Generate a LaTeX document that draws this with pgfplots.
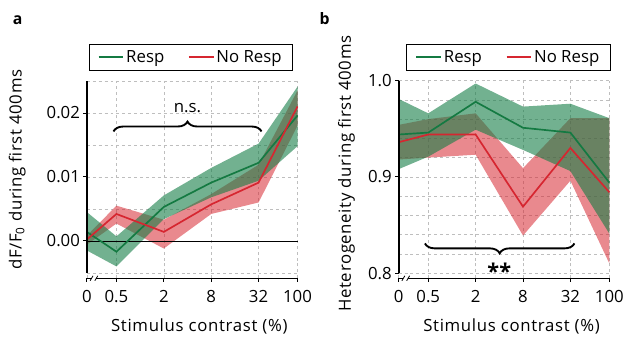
\documentclass[border=0pt]{standalone}
\usepackage{fontspec}
\setmainfont{Open Sans}
\newfontfamily\labfont{Open Sans}[LetterSpace=4]
\usepackage{pgfplots}
\usepackage{pgfplotstable}
\pgfplotsset{compat=1.18}
\usepgfplotslibrary{fillbetween}
\usetikzlibrary{decorations.pathreplacing}

\definecolor{gline}{RGB}{20,122,66}
\definecolor{rline}{RGB}{214,38,48}
\definecolor{gfill}{RGB}{20,125,70}
\definecolor{rfill}{RGB}{215,40,50}
\definecolor{gridc}{RGB}{190,190,190}

% x positions: log2 of contrast; 0% placed at -2.25
\pgfplotstableread{
x g gu gl r ru rl
-2.25 0.0014 0.0045 -0.0015 0.0002 0.0008 -0.0006
-1 -0.0017 0.0007 -0.0040 0.0042 0.0055 0.0027
1 0.0053 0.0071 0.0034 0.0014 0.0033 -0.0012
3 0.0091 0.0114 0.0068 0.0057 0.0073 0.0042
5 0.0122 0.0152 0.0094 0.0091 0.0119 0.0060
6.644 0.0196 0.0241 0.0148 0.0210 0.0235 0.0180
}\dataA

\pgfplotstableread{
x g gu gl r ru rl
-2.25 0.944 0.981 0.908 0.936 0.954 0.918
-1 0.946 0.966 0.921 0.944 0.960 0.920
1 0.978 0.997 0.949 0.944 0.966 0.923
3 0.951 0.973 0.928 0.869 0.909 0.839
5 0.946 0.976 0.906 0.930 0.961 0.896
6.644 0.894 0.961 0.841 0.884 0.961 0.810
}\dataB

\newcommand{\fs}{\fontsize{17}{20}\selectfont}
\newcommand{\fl}{\labfont\fontsize{17}{20}\selectfont}
\newcommand{\fg}{\fontsize{17}{20}\selectfont}

\pgfplotsset{
  panel/.style={
    scale only axis, width=213.5pt,
    xmin=-2.25, xmax=6.644,
    xtick={-2.25,-1,1,3,5,6.644},
    xticklabels={0,0.5,2,8,32,100},
    scaled y ticks=false,
    axis line style={draw=none},
    tick style={black, line width=0.8pt},
    tick align=outside, major tick length=3.5pt, minor tick length=0pt,
    xtick pos=bottom, ytick pos=left,
    grid=both,
    major grid style={gridc, line width=0.6pt, dash pattern=on 3pt off 3pt},
    minor grid style={gridc, line width=0.6pt, dash pattern=on 3pt off 3pt},
    tick label style={font=\fs},
    xticklabel style={yshift=-5pt},
    label style={font=\fl},
    /pgf/number format/assume math mode=true,
    clip=false,
    legend columns=2,
    legend style={anchor=north west, draw=black, font=\fg,
      inner xsep=9pt, inner ysep=4pt,
      /tikz/every even column/.append style={column sep=22pt}},
    legend image code/.code={\draw[#1, line width=1.8pt] (0pt,0pt) -- (25pt,0pt);},
    xlabel={Stimulus contrast (\%)},
  },
  gband/.style={fill=gfill, fill opacity=0.6, draw=none},
  rband/.style={fill=rfill, fill opacity=0.55, draw=none},
}

\begin{document}
\begin{tikzpicture}
\path (0pt,0pt) rectangle (627pt,-341pt);

\node[font=\bfseries\fontsize{16}{18}\selectfont] at (18pt,-20pt) {a};
\node[font=\bfseries\fontsize{16}{18}\selectfont] at (329pt,-19pt) {b};

% ---------- panel a ----------
\begin{axis}[panel,
  at={(88pt,-282pt)}, anchor=south west, height=200pt,
  ymin=-0.00585, ymax=0.025,
  ytick={0,0.01,0.02}, minor ytick={-0.005,0.005,0.015,0.025},
  yticklabel style={/pgf/number format/fixed, /pgf/number format/fixed zerofill, /pgf/number format/precision=2},
  ylabel={dF/F\textsubscript{0} during first 400ms},
  ylabel style={at={(axis description cs:-0.33,0.55)}, anchor=center},
  xlabel style={at={(axis description cs:0.534,-0.245)}, anchor=center},
  legend style={at={(axis description cs:0.009,1.185)}},
]
\addplot[name path=rua, draw=none, forget plot] table[x=x,y=ru] {\dataA};
\addplot[name path=rla, draw=none, forget plot] table[x=x,y=rl] {\dataA};
\addplot[rband, forget plot] fill between[of=rua and rla];
\addplot[name path=gua, draw=none, forget plot] table[x=x,y=gu] {\dataA};
\addplot[name path=gla, draw=none, forget plot] table[x=x,y=gl] {\dataA};
\addplot[gband, forget plot] fill between[of=gua and gla];
\draw[black, line width=0.7pt] (axis cs:-2.25,0) -- (axis cs:6.644,0);
\addplot[gline, line width=1.7pt, forget plot] table[x=x,y=g] {\dataA};
\addplot[rline, line width=1.7pt, forget plot] table[x=x,y=r] {\dataA};
\addlegendimage{gline, line width=1.8pt}
\addlegendentry{Resp}
\addlegendimage{rline, line width=1.8pt}
\addlegendentry{No Resp}
% spines
\draw[black, line width=1.8pt] (axis cs:-2.25,-0.005) -- (axis cs:-2.25,0.025);
\draw[black, line width=1.2pt] (axis cs:-2.25,-0.00585) -- (axis cs:-2.05,-0.00585);
\draw[black, line width=1.2pt] (axis cs:-1.85,-0.00585) -- (axis cs:6.644,-0.00585);
\draw[black, line width=0.8pt] (axis cs:-2.05,-0.00585) ++(-1.5pt,-2.5pt) -- ++(3pt,5pt);
\draw[black, line width=0.8pt] (axis cs:-1.85,-0.00585) ++(-1.5pt,-2.5pt) -- ++(3pt,5pt);
% brace
\draw[black, line width=1.9pt, decorate, decoration={brace, amplitude=10pt}]
  (axis cs:-1.125,0.0171) -- (axis cs:5.125,0.0171);
\node[font=\fs] at (axis cs:2.0,0.0207) {n.s.};
\end{axis}

% ---------- panel b ----------
\begin{axis}[panel,
  at={(404pt,-282pt)}, anchor=south west, height=200.3pt,
  ymin=0.7946, ymax=1.0,
  ytick={0.8,0.9,1.0}, minor ytick={0.82,0.84,0.86,0.88,0.92,0.94,0.96,0.98},
  yticklabel style={/pgf/number format/fixed, /pgf/number format/fixed zerofill, /pgf/number format/precision=1},
  ylabel={Heterogeneity during first 400ms},
  ylabel style={at={(axis description cs:-0.248,0.529)}, anchor=center},
  xlabel style={at={(axis description cs:0.536,-0.245)}, anchor=center},
  legend style={at={(axis description cs:0.037,1.183)}},
]
\addplot[name path=rub, draw=none, forget plot] table[x=x,y=ru] {\dataB};
\addplot[name path=rlb, draw=none, forget plot] table[x=x,y=rl] {\dataB};
\addplot[rband, forget plot] fill between[of=rub and rlb];
\addplot[name path=gub, draw=none, forget plot] table[x=x,y=gu] {\dataB};
\addplot[name path=glb, draw=none, forget plot] table[x=x,y=gl] {\dataB};
\addplot[gband, forget plot] fill between[of=gub and glb];
\addplot[gline, line width=1.7pt, forget plot] table[x=x,y=g] {\dataB};
\addplot[rline, line width=1.7pt, forget plot] table[x=x,y=r] {\dataB};
\addlegendimage{gline, line width=1.8pt}
\addlegendentry{Resp}
\addlegendimage{rline, line width=1.8pt}
\addlegendentry{No Resp}
% spines
\draw[black, line width=1.8pt] (axis cs:-2.25,0.8) -- (axis cs:-2.25,1.0);
\draw[black, line width=1.2pt] (axis cs:-2.25,0.7946) -- (axis cs:-2.05,0.7946);
\draw[black, line width=1.2pt] (axis cs:-1.85,0.7946) -- (axis cs:6.644,0.7946);
\draw[black, line width=0.8pt] (axis cs:-2.05,0.7946) ++(-1.5pt,-2.5pt) -- ++(3pt,5pt);
\draw[black, line width=0.8pt] (axis cs:-1.85,0.7946) ++(-1.5pt,-2.5pt) -- ++(3pt,5pt);
% brace
\draw[black, line width=1.9pt, decorate, decoration={brace, amplitude=10pt, mirror}]
  (axis cs:-1.14,0.8308) -- (axis cs:5.17,0.8308);
\node[font=\bfseries\fontsize{22}{22}\selectfont] at (axis cs:2.0,0.802) {**};
\end{axis}
\end{tikzpicture}
\end{document}
